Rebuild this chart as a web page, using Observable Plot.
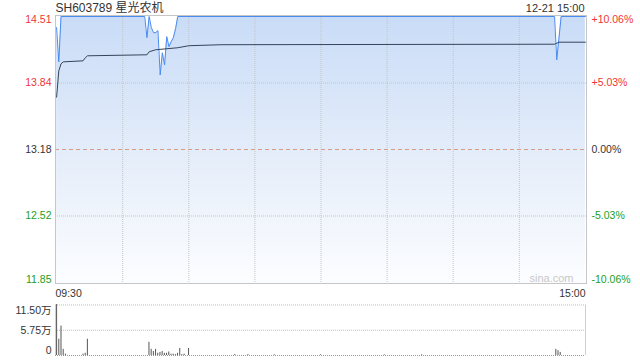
<!DOCTYPE html>
<html><head><meta charset="utf-8">
<script src="https://cdn.jsdelivr.net/npm/d3@7"></script>
<script src="https://cdn.jsdelivr.net/npm/@observablehq/plot@0.6"></script>
<style>
body{margin:0;background:#fff;}
#c{width:640px;height:360px;position:relative;overflow:hidden;background:#fff}
#c svg{display:block}
</style></head><body><div id="c"></div>
<script>
// ---- data ----
const title = "SH603789 星光农机";
const stamp = "12-21 15:00";
const prevClose = 13.18;
const priceTicks = [14.51, 13.84, 13.18, 12.52, 11.85];
const pctLabels = ["+10.06%", "+5.03%", "0.00%", "-5.03%", "-10.06%"];
const timeLabels = ["09:30", "15:00"];
const gridMinutes = [30, 60, 90, 120, 150, 180, 210];
const priceMinute = [0, 1, 2, 40, 41, 42, 43, 44, 45, 46, 47, 48, 49, 50, 51, 52, 53, 54, 55, 226, 227, 229, 240];
const priceValue  = [14.39, 14.05, 14.50, 14.50, 14.29, 14.50, 14.39, 14.34, 14.34, 14.36, 13.92, 14.14, 14.02, 14.30, 14.20, 14.25, 14.29, 14.38, 14.50, 14.50, 14.07, 14.50, 14.50];
const avgMinute = [0, 1, 2, 3, 12, 13, 14, 41, 42, 45, 55, 60, 75, 226, 228, 240];
const avgValue  = [13.70, 13.96, 14.03, 14.05, 14.06, 14.09, 14.11, 14.12, 14.15, 14.17, 14.19, 14.21, 14.22, 14.225, 14.245, 14.245];
const volMinute = [0, 1, 2, 3, 4, 12, 13, 14, 42, 43, 44, 45, 46, 47, 48, 49, 50, 51, 52, 53, 54, 55, 56, 57, 58, 60, 81, 87, 99, 120, 149, 166, 227, 228, 229];
const volValue  = [11.6, 3.7, 6.7, 1.4, 0.3, 0.3, 0.5, 3.7, 3.0, 1.4, 0.9, 1.4, 0.5, 0.7, 0.9, 0.5, 0.5, 0.8, 0.3, 0.3, 0.2, 0.5, 1.6, 0.2, 0.3, 1.6, 0.2, 0.2, 0.15, 0.15, 0.15, 0.15, 1.4, 1.1, 0.7];
const volTicks = [11.5, 5.75, 0];
const volLabels = ["11.50万", "5.75万", "0"];

// ---- build ----
const FONT = '"Liberation Sans", Arial, "Noto Sans CJK SC", sans-serif';
const xDomain = [-0.5, 240.5];
const price = priceMinute.map((m, i) => ({m, p: priceValue[i]}));
const avg = avgMinute.map((m, i) => ({m, p: avgValue[i]}));
const vol = volMinute.map((m, i) => ({m, v: volValue[i]}));
const colorOf = v => v > prevClose ? "#f03535" : v < prevClose ? "#22a022" : "#333333";
const ticks = priceTicks.map((v, i) => ({v, pct: pctLabels[i], c: colorOf(v), i}));
const n = ticks.length;
const topT = ticks.filter(t => t.i === 0);
const botT = ticks.filter(t => t.i === n - 1);
const midT = ticks.filter(t => t.i > 0 && t.i < n - 1);
const lblStyle = {fontSize: 10.5, fill: "c"};

const main = Plot.plot({
  width: 640, height: 288,
  marginLeft: 55, marginRight: 54, marginTop: 15, marginBottom: 5,
  x: {domain: xDomain, axis: null},
  y: {domain: [priceTicks[n - 1], priceTicks[0]], axis: null},
  color: {type: "identity"},
  style: {fontFamily: FONT, background: "transparent", overflow: "visible"},
  marks: [
    Plot.areaY(price, {x: "m", y1: priceTicks[n - 1], y2: "p", fill: "url(#pg)"}),
    Plot.ruleX(gridMinutes, {stroke: "#c4c4c4", strokeDasharray: "1,1"}),
    Plot.ruleY(midT.filter(t => t.v !== prevClose), {y: "v", stroke: "#c4c4c4", strokeDasharray: "1,1"}),
    Plot.ruleY([prevClose], {stroke: "#dc9a86", strokeDasharray: "4,3"}),
    Plot.frame({stroke: "#c6c6c6"}),
    Plot.line(price, {x: "m", y: "p", stroke: "#4a8bf0", strokeWidth: 1}),
    Plot.line(avg, {x: "m", y: "p", stroke: "#34445a", strokeWidth: 1}),
    Plot.text(midT, {y: "v", text: d => d.v.toFixed(2), frameAnchor: "left", textAnchor: "end", dx: -4, ...lblStyle}),
    Plot.text(topT, {y: "v", text: d => d.v.toFixed(2), frameAnchor: "left", textAnchor: "end", dx: -4, lineAnchor: "top", dy: 0, ...lblStyle}),
    Plot.text(botT, {y: "v", text: d => d.v.toFixed(2), frameAnchor: "left", textAnchor: "end", dx: -4, lineAnchor: "bottom", dy: -1, ...lblStyle}),
    Plot.text(midT, {y: "v", text: "pct", frameAnchor: "right", textAnchor: "start", dx: 5, ...lblStyle}),
    Plot.text(topT, {y: "v", text: "pct", frameAnchor: "right", textAnchor: "start", dx: 5, lineAnchor: "top", dy: 0, ...lblStyle}),
    Plot.text(botT, {y: "v", text: "pct", frameAnchor: "right", textAnchor: "start", dx: 5, lineAnchor: "bottom", dy: -1, ...lblStyle}),
    Plot.text([title], {frameAnchor: "top-left", textAnchor: "start", lineAnchor: "middle", dy: -7, fontSize: 12, fill: "#333"}),
    Plot.text([stamp], {frameAnchor: "top-right", textAnchor: "end", lineAnchor: "middle", dx: -2, dy: -7, fontSize: 11, fill: "#333"}),
    Plot.text(["sina.com"], {frameAnchor: "bottom-right", textAnchor: "end", lineAnchor: "middle", dx: -13, dy: -5, fontSize: 11, fill: "#c8c8c8"})
  ]
});
const defs = d3.select(main).insert("defs", ":first-child");
const grad = defs.append("linearGradient").attr("id", "pg").attr("x1", 0).attr("y1", 0).attr("x2", 0).attr("y2", 1);
grad.append("stop").attr("offset", "0%").attr("stop-color", "#c9dcf7");
grad.append("stop").attr("offset", "55%").attr("stop-color", "#e6eefa");
grad.append("stop").attr("offset", "100%").attr("stop-color", "#fcfdff");

const vt = volTicks.map((v, i) => ({v, t: volLabels[i], i}));
const volPlot = Plot.plot({
  width: 640, height: 72,
  marginLeft: 55, marginRight: 55, marginTop: 16.5, marginBottom: 5,
  x: {domain: xDomain, axis: null},
  y: {domain: [0, volTicks[0]], axis: null},
  style: {fontFamily: FONT, background: "transparent", overflow: "visible"},
  marks: [
    Plot.ruleY(volTicks.filter(v => v > 0), {stroke: "#bdbdbd", strokeDasharray: "1,1"}),
    Plot.ruleY([0], {stroke: "#999", strokeDasharray: "1,1"}),
    Plot.ruleX(xDomain, {stroke: "#cfcfcf"}),
    Plot.ruleX(vol, {x: "m", y: "v", stroke: "#555", strokeWidth: 1}),
    Plot.text(vt.filter(d => d.i === 0), {y: "v", text: "t", frameAnchor: "left", textAnchor: "end", dx: -4, lineAnchor: "top", dy: 2, fontSize: 10.5, fill: "#333"}),
    Plot.text(vt.filter(d => d.i > 0 && d.v > 0), {y: "v", text: "t", frameAnchor: "left", textAnchor: "end", dx: -4, fontSize: 10.5, fill: "#333"}),
    Plot.text(vt.filter(d => d.v === 0), {y: "v", text: "t", frameAnchor: "left", textAnchor: "end", dx: -4, lineAnchor: "bottom", dy: -1.5, fontSize: 10.5, fill: "#333"}),
    Plot.text([timeLabels[0]], {frameAnchor: "top-left", textAnchor: "start", lineAnchor: "middle", dy: -11.5, fontSize: 10.5, fill: "#333"}),
    Plot.text([timeLabels[1]], {frameAnchor: "top-right", textAnchor: "end", lineAnchor: "middle", dy: -11.5, fontSize: 10.5, fill: "#333"})
  ]
});

const c = document.getElementById("c");
c.appendChild(main);
c.appendChild(volPlot);
</script>
</body></html>
